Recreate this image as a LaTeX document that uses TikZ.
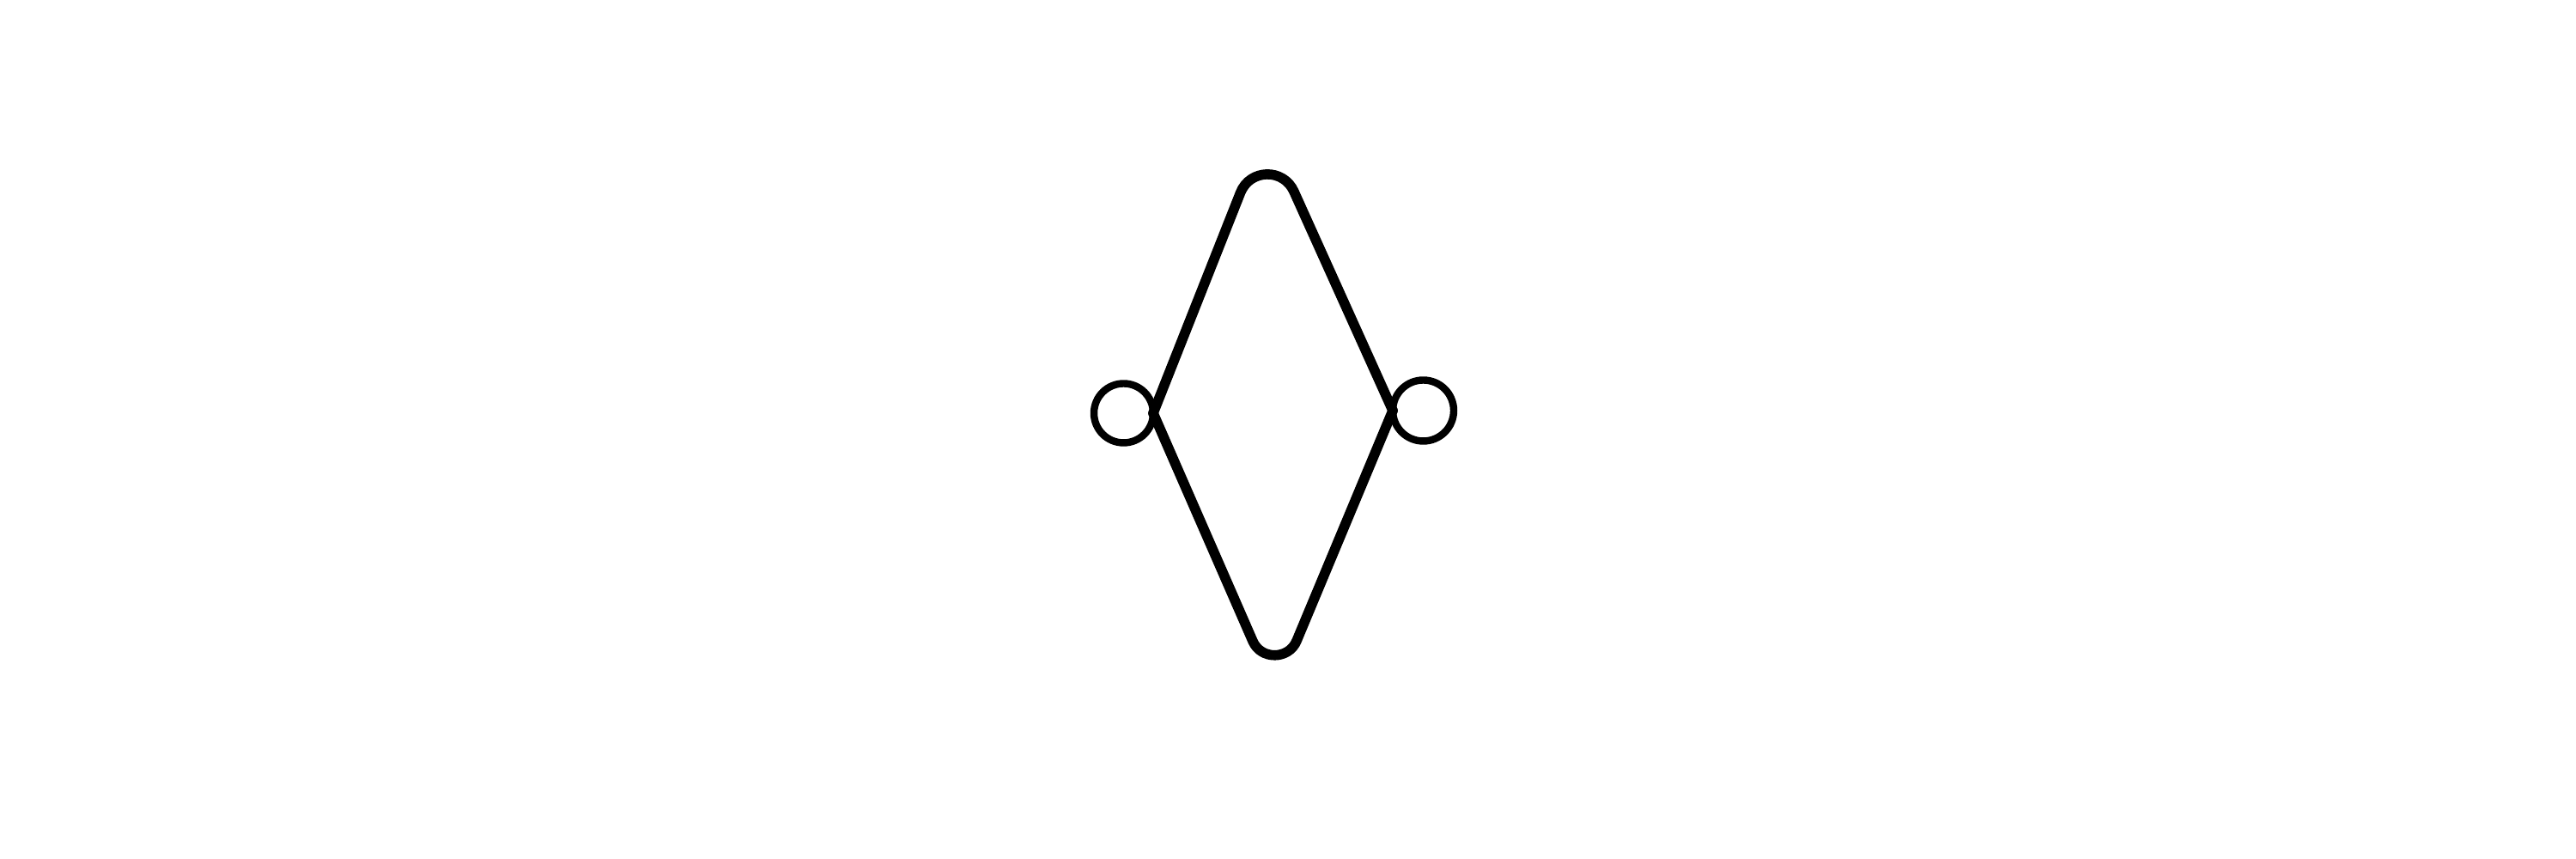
\documentclass[tikz,border=0pt]{standalone}
\usetikzlibrary{calc}
\begin{document}
\begin{tikzpicture}[
        loop/.style={circle, draw, line width=2.4pt, inner sep=0pt, outer sep=0pt, minimum size=#1},
        side/.style={line width=3.3pt, line cap=round, line join=round}
    ]
      \useasboundingbox (0,0) rectangle (30,10);

      % Петли слева и справа
      \node[loop=6.9mm] (loopL) at (13.085,5.19) {};
      \node[loop=7.1mm] (loopR) at (16.575,5.22) {};

      % Вершины ромба
      \coordinate (top) at (14.74,8.50);
      \coordinate (bot) at (14.85,1.94);

      % Ромб, скругления у верхней и нижней вершин
      \draw[side] (loopL.east) -- ($(top)!8mm!(loopL.east)$)
        .. controls ($(top)!5mm!(loopL.east)$) and ($(top)!5mm!(loopR.west)$) .. ($(top)!8mm!(loopR.west)$)
        -- (loopR.west);
      \draw[side] (loopL.east) -- ($(bot)!6.5mm!(loopL.east)$)
        .. controls ($(bot)!4.1mm!(loopL.east)$) and ($(bot)!4.1mm!(loopR.west)$) .. ($(bot)!6.5mm!(loopR.west)$)
        -- (loopR.west);
    \end{tikzpicture}
\end{document}
